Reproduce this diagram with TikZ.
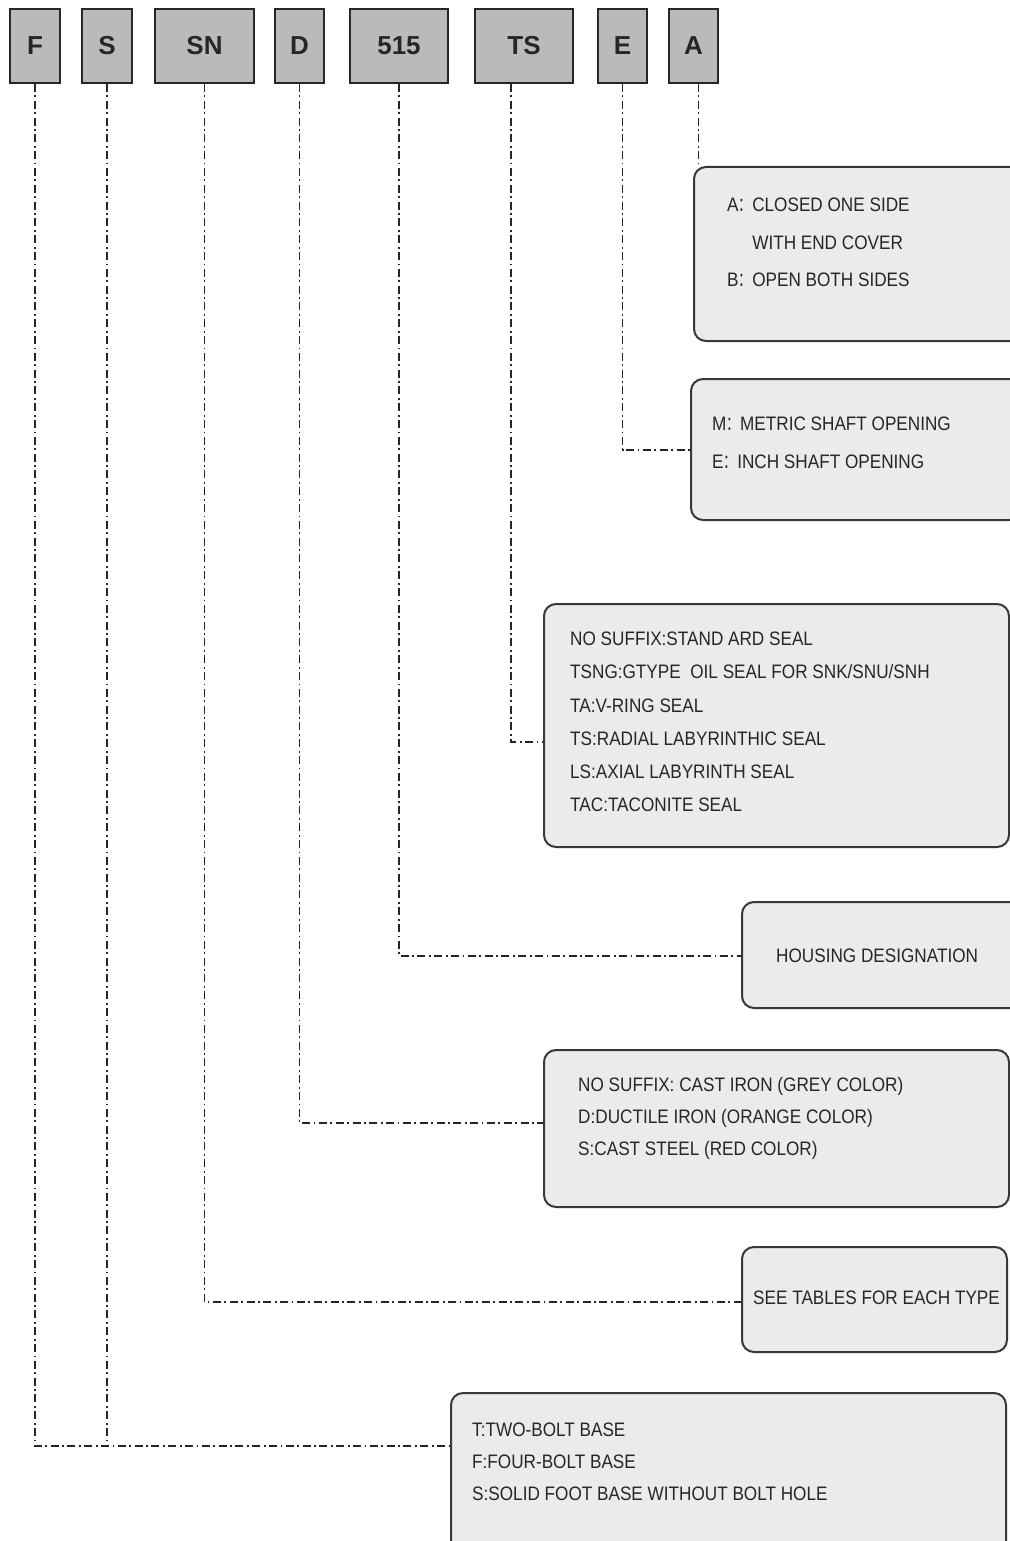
\documentclass[tikz,border=0pt]{standalone}
\usepackage{fontspec}
\setmainfont{Liberation Sans}
\newfontfamily\narrowfont[FakeStretch=0.88]{Liberation Sans}
\newfontfamily\cjkfont[FakeStretch=0.7]{Noto Sans CJK SC}
\newcommand{\fwcolon}{{\cjkfont ：}}

\tikzset{
  codebox/.style={draw=black!85, line width=2pt, fill=black!27, minimum height=74pt,
    inner sep=0pt, font=\bfseries\fontsize{26}{26}\selectfont, text=black!85},
  infobox/.style={draw=black!78, line width=2pt, fill=black!8, rounded corners=12pt,
    anchor=north west, inner sep=0pt},
  lbl/.style={font=\narrowfont\fontsize{19.5}{#1}\selectfont, text=black!85,
    align=left, inner sep=0pt, anchor=west},
  lbl/.default=33,
  leader/.style={draw=black!85, line width=1.9pt,
    dash pattern=on 8pt off 3.5pt on 1.8pt off 3.5pt}
}

\begin{document}
\begin{tikzpicture}[x=1pt,y=-1pt]
    \useasboundingbox (0,0) rectangle (1009,1541);

    % code letters
    \node[codebox, minimum width=50pt] (F)   at (35,46)    {F};
    \node[codebox, minimum width=50pt] (S)   at (107,46)   {S};
    \node[codebox, minimum width=99pt] (SN)  at (204.5,46) {SN};
    \node[codebox, minimum width=49pt] (D)   at (299.5,46) {D};
    \node[codebox, minimum width=98pt] (num) at (399,46)   {515};
    \node[codebox, minimum width=98pt] (TS)  at (524,46)   {TS};
    \node[codebox, minimum width=49pt] (E)   at (622.5,46) {E};
    \node[codebox, minimum width=49pt] (A)   at (693.5,46) {A};

    % description boxes
    \node[infobox, minimum width=330pt, minimum height=174pt] (boxA)    at (693,166)  {};
    \node[infobox, minimum width=330pt, minimum height=141pt] (boxME)   at (690,378)  {};
    \node[infobox, minimum width=465pt, minimum height=243pt] (boxSeal) at (543,603)  {};
    \node[infobox, minimum width=290pt, minimum height=106pt] (boxHous) at (741,901)  {};
    \node[infobox, minimum width=465pt, minimum height=157pt] (boxMat)  at (543,1049) {};
    \node[infobox, minimum width=265pt, minimum height=105pt] (boxSee)  at (741,1246) {};
    \node[infobox, minimum width=555pt, minimum height=170pt] (boxBase) at (450,1392) {};

    % texts
    \node[lbl=37.5] (txtA) at (727,242.5)
        {A\fwcolon CLOSED ONE SIDE\\ \phantom{A\fwcolon}WITH END COVER\\ B\fwcolon OPEN BOTH SIDES};
    \node[lbl=38] (txtME) at (712,443)
        {M\fwcolon METRIC SHAFT OPENING\\ E\fwcolon INCH SHAFT OPENING};
    \node[lbl=33.2] (txtSeal) at (570,722)
        {NO SUFFIX:STAND ARD SEAL\\ TSNG:GTYPE\ \ OIL SEAL FOR SNK/SNU/SNH\\ TA:V-RING SEAL\\
         TS:RADIAL LABYRINTHIC SEAL\\ LS:AXIAL LABYRINTH SEAL\\ TAC:TACONITE SEAL};
    \node[lbl] (txtHous) at (776,956) {HOUSING DESIGNATION};
    \node[lbl=32] (txtMat) at (578,1118)
        {NO SUFFIX: CAST IRON (GREY COLOR)\\ D:DUCTILE IRON (ORANGE COLOR)\\ S:CAST STEEL (RED COLOR)};
    \node[lbl] (txtSee) at (753,1298) {SEE TABLES FOR EACH TYPE};
    \node[lbl=32] (txtBase) at (472,1462)
        {T:TWO-BOLT BASE\\ F:FOUR-BOLT BASE\\ S:SOLID FOOT BASE WITHOUT BOLT HOLE};

    % junctions on the boxes
    \coordinate (jBase) at (450,1446);
    \coordinate (jSee)  at (741,1302);
    \coordinate (jMat)  at (543,1123);
    \coordinate (jHous) at (741,956);
    \coordinate (jSeal) at (543,742);
    \coordinate (jME)   at (690,450);

    % leader lines
    \draw[leader] (F.south) |- (jBase);
    \draw[leader] (S.south) -- (S.south |- jBase);
    \draw[leader] (SN.south) |- (jSee);
    \draw[leader] (D.south) |- (jMat);
    \draw[leader] (num.south) |- (jHous);
    \draw[leader] ([xshift=-13pt]TS.south) |- (jSeal);
    \draw[leader] (E.south) |- (jME);
    \draw[leader] ([xshift=5pt]A.south) -- ([xshift=5pt]A.south |- boxA.north);
\end{tikzpicture}
\end{document}
